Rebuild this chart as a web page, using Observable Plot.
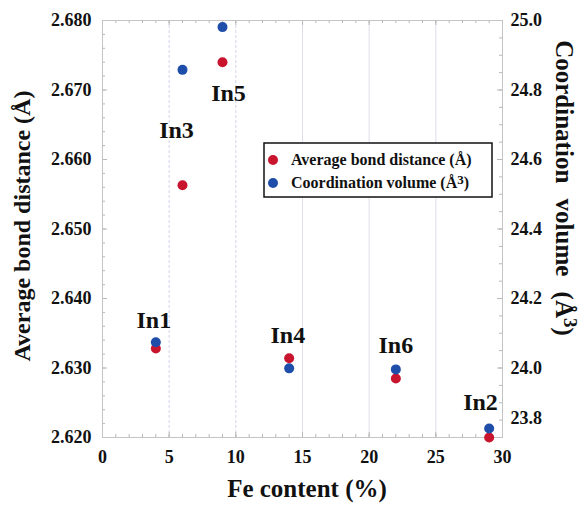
<!DOCTYPE html>
<html>
<head>
<meta charset="utf-8">
<script src="https://cdn.jsdelivr.net/npm/d3@7"></script>
<script src="https://cdn.jsdelivr.net/npm/@observablehq/plot@0.6"></script>
<style>
  html, body { margin: 0; padding: 0; background: white; }
</style>
</head>
<body>
<div id="chart"></div>
<script>
// ---- data ----
const sites = ["In1", "In3", "In5", "In4", "In6", "In2"];
const feContent = [4, 6, 9, 14, 22, 29];
const bondDistance = [2.6328, 2.6563, 2.6740, 2.6314, 2.6285, 2.6200];
const coordVolume = [24.074, 24.858, 24.981, 23.999, 23.996, 23.826];
// label anchor positions (in data units, left axis)
const labelFe = [3.85, 5.55, 9.45, 13.9, 22.0, 28.35];
const labelBond = [2.6368, 2.6642, 2.6695, 2.6347, 2.6332, 2.6250];
const leftTicks = [2.620, 2.630, 2.640, 2.650, 2.660, 2.670, 2.680];
const rightTicks = [23.8, 24.0, 24.2, 24.4, 24.6, 24.8, 25.0];
const xTicks = [0, 5, 10, 15, 20, 25, 30];

// right axis maps linearly onto left axis: 23.8 <-> 2.620, 25.0 <-> 2.680
const volToD = v => 2.62 + (v - 23.8) / 20;

const points = sites.map((s, i) => ({site: s, fe: feContent[i], bond: bondDistance[i], vol: coordVolume[i]}));
const labels = sites.map((s, i) => ({site: s, x: labelFe[i], y: labelBond[i]}));

const W = 587, H = 506;
const mL = 102, mR = 85, mT = 20, mB = 69;
const pw = W - mL - mR, ph = H - mT - mB;

const leftMinor = d3.range(0, 31).map(i => 2.62 + i * 0.002);
const rightMinor = d3.range(0, 25).map(i => volToD(23.8 + i * 0.05));
const xMinor = d3.range(0, 31);

const red = "#c8142c", blue = "#1f4eaa";
const tickColor = "#b8b8b8";
const FONT = "Liberation Serif";

const plot = Plot.plot({
  width: W, height: H,
  marginLeft: mL, marginRight: mR, marginTop: mT, marginBottom: mB,
  x: {domain: [0, 30]},
  y: {domain: [2.62, 2.68]},
  style: {fontFamily: FONT, fontWeight: "bold", fontSize: "18px", color: "#111", background: "white"},
  marks: [
    Plot.ruleX([5, 10], {stroke: "#d4d4ec", strokeDasharray: "3,2"}),
    Plot.ruleX([15, 20, 25], {stroke: "#dedee8"}),
    // minor / major inward ticks
    Plot.tickY(leftMinor, {y: d => d, insetRight: pw - 3, stroke: tickColor}),
    Plot.tickY(leftTicks, {y: d => d, insetRight: pw - 5, stroke: tickColor}),
    Plot.tickY(rightMinor, {y: d => d, insetLeft: pw - 3, stroke: tickColor}),
    Plot.tickY(rightTicks.map(volToD), {y: d => d, insetLeft: pw - 5, stroke: tickColor}),
    Plot.tickX(xMinor, {x: d => d, insetTop: ph - 3, stroke: tickColor}),
    Plot.tickX(xTicks, {x: d => d, insetTop: ph - 5, stroke: tickColor}),
    Plot.tickX(xMinor, {x: d => d, insetBottom: ph - 3, stroke: tickColor}),
    Plot.tickX(xTicks, {x: d => d, insetBottom: ph - 5, stroke: tickColor}),
    Plot.frame({stroke: "#c4c4c4"}),
    Plot.axisY({anchor: "left", ticks: leftTicks, tickSize: 0, tickPadding: 11,
      tickFormat: d => d.toFixed(3), label: null}),
    Plot.axisY({anchor: "right", ticks: rightTicks.slice(1).map(volToD), tickSize: 0, tickPadding: 8,
      tickFormat: d => (23.8 + (d - 2.62) * 20).toFixed(1), label: null}),
    Plot.text([rightTicks[0]], {x: 30, y: d => volToD(d), text: d => d.toFixed(1),
      dx: 8, dy: -19, textAnchor: "start", fontSize: 18}),
    Plot.axisX({ticks: xTicks, tickSize: 0, tickPadding: 13, tickFormat: d => String(d), label: null}),
    Plot.dot(points, {x: "fe", y: "bond", r: 5, fill: red, stroke: "none"}),
    Plot.dot(points, {x: "fe", y: d => volToD(d.vol), r: 5, fill: blue, stroke: "none"}),
    Plot.text(labels, {x: "x", y: "y", text: "site", fontSize: 24, fill: "#111"})
  ]
});

const svg = d3.select(plot);
function styled(sel, size) {
  return sel.attr("fill", "#111").style("font-size", size + "px")
    .style("font-weight", "bold").style("font-family", FONT);
}
// axis titles
styled(svg.append("text"), 24)
  .attr("transform", `translate(22,226) rotate(-90)`)
  .attr("text-anchor", "middle").attr("dominant-baseline", "central")
  .text("Average bond distance (Å)");
const rt = styled(svg.append("text"), 25)
  .attr("transform", `translate(565,188) rotate(90)`)
  .attr("text-anchor", "middle").attr("dominant-baseline", "central")
  .style("word-spacing", "9px");
rt.append("tspan").text("Coordination volume (Å");
rt.append("tspan").attr("dy", -6).style("font-size", "19px").text("3");
rt.append("tspan").attr("dy", 6).text(")");
styled(svg.append("text"), 25)
  .attr("x", 307).attr("y", 488)
  .attr("text-anchor", "middle").attr("dominant-baseline", "central")
  .text("Fe content (%)");

// legend
const lg = svg.append("g");
lg.append("rect").attr("x", 264).attr("y", 143).attr("width", 228).attr("height", 54)
  .attr("fill", "white").attr("stroke", "#111").attr("stroke-width", 1.5);
lg.append("circle").attr("cx", 273).attr("cy", 160).attr("r", 5).attr("fill", red);
styled(lg.append("text"), 16).attr("x", 291).attr("y", 165).attr("text-anchor", "start")
  .text("Average bond distance (Å)");
lg.append("circle").attr("cx", 273).attr("cy", 183).attr("r", 5).attr("fill", blue);
const l2 = styled(lg.append("text"), 16).attr("x", 291).attr("y", 188).attr("text-anchor", "start");
l2.append("tspan").text("Coordination volume (Å");
l2.append("tspan").attr("dy", -4).style("font-size", "13px").text("3");
l2.append("tspan").attr("dy", 4).text(")");

document.getElementById("chart").appendChild(plot);
</script>
</body>
</html>
